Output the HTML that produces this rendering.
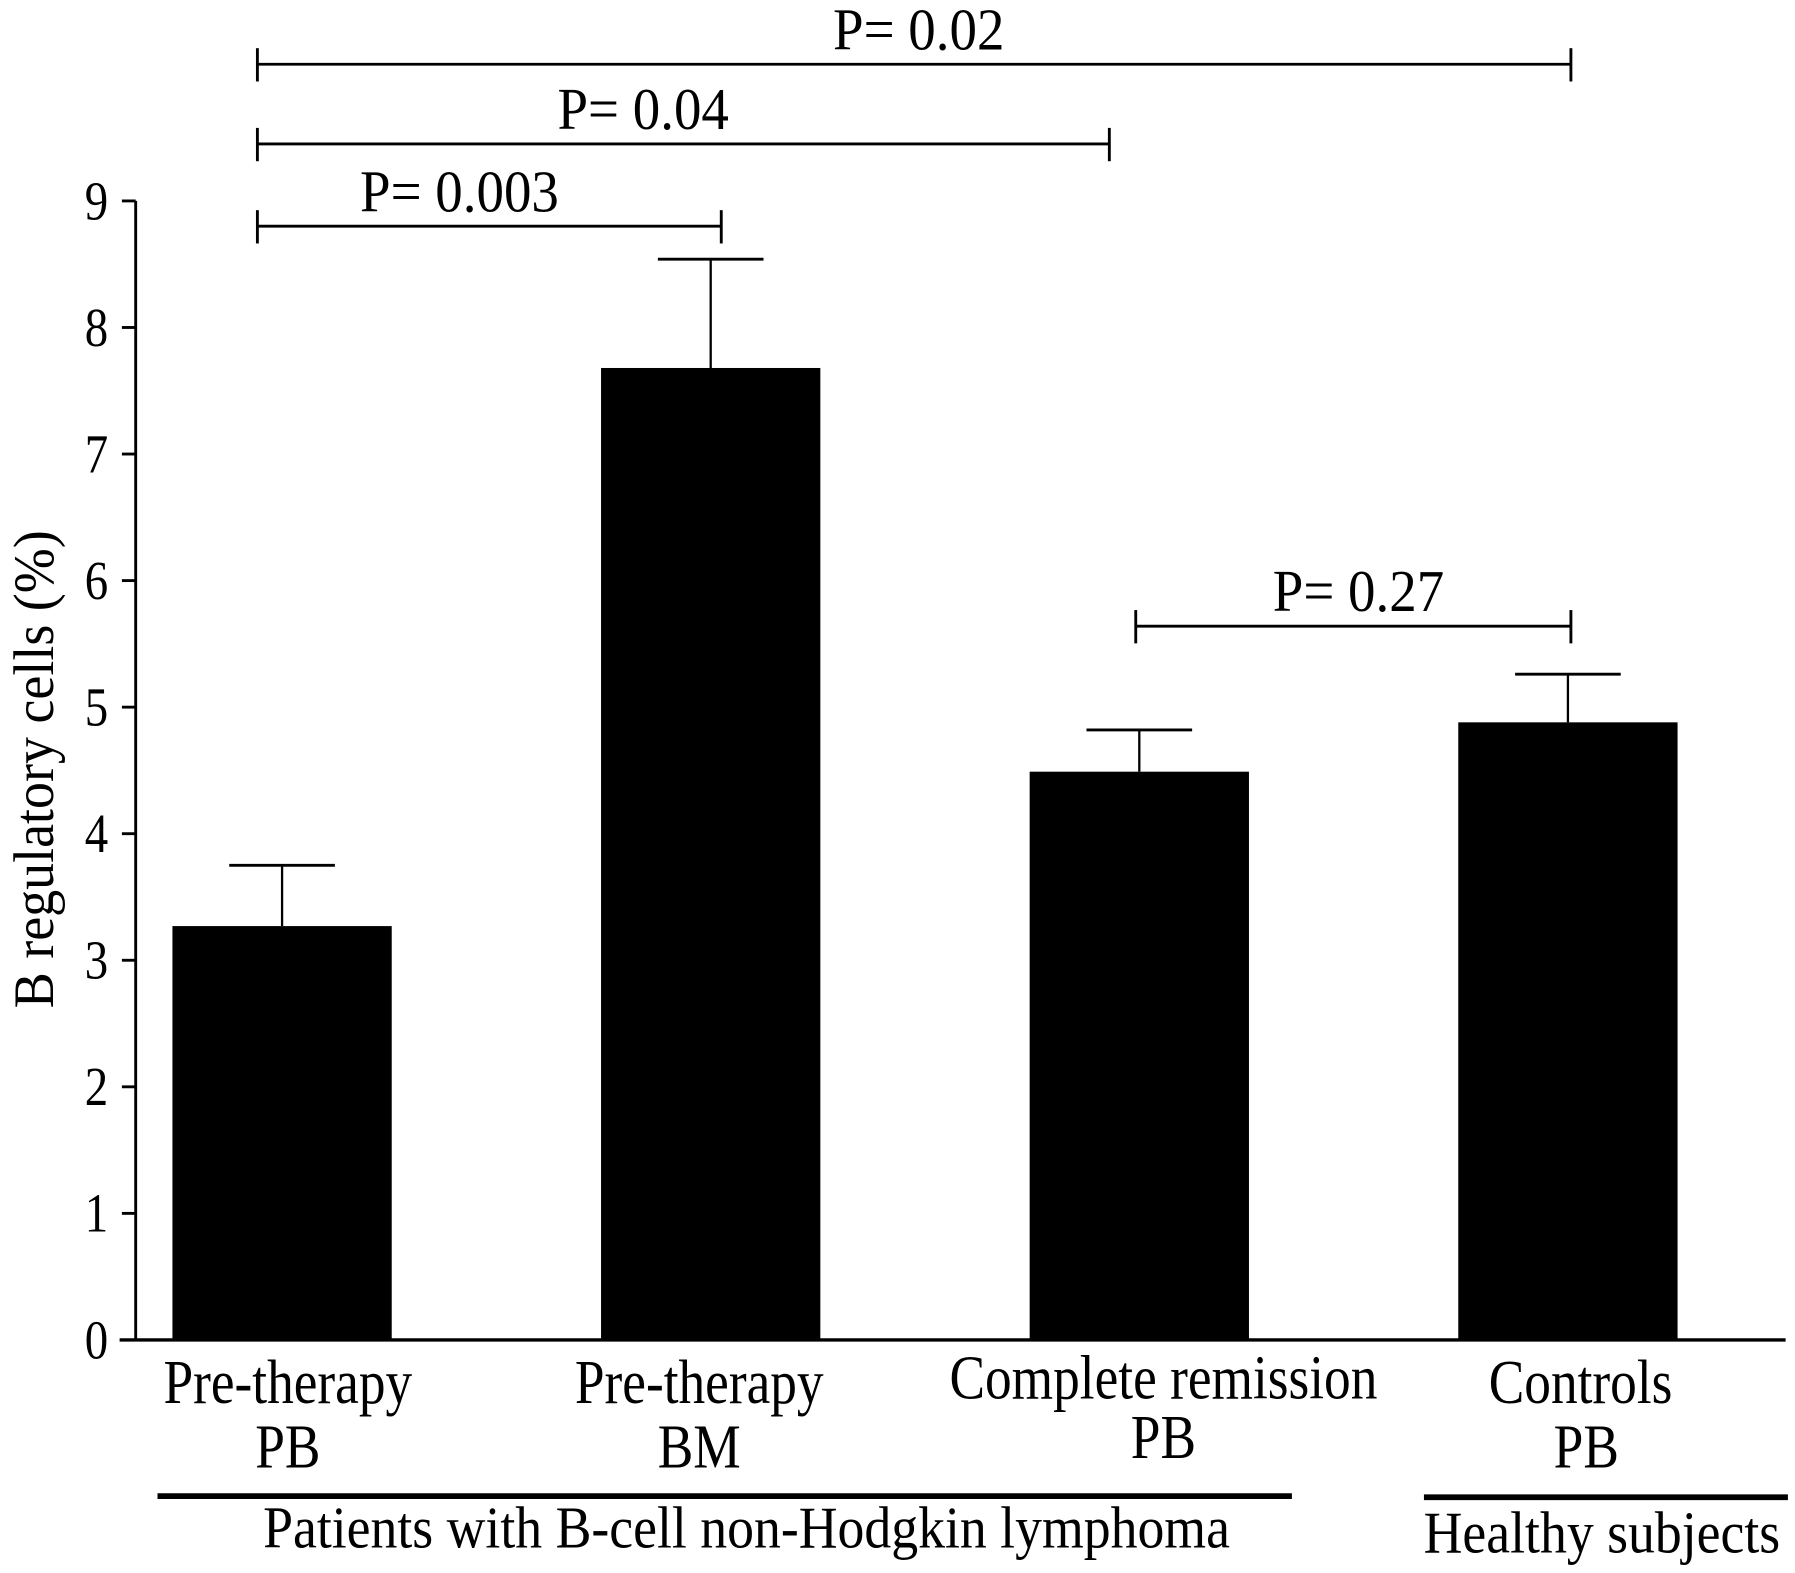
<!DOCTYPE html>
<html><head><meta charset="utf-8"><style>
html,body{margin:0;padding:0;background:#fff;}
svg{display:block;font-family:"Liberation Serif",serif;}
</style></head><body>
<svg id="chart" width="1795" height="1573" viewBox="0 0 1563 1370" xmlns="http://www.w3.org/2000/svg">
<rect width="1563" height="1370" fill="#fff"/>
<g id="axes"></g><g id="bars"></g><g id="sig"></g>
<text transform="translate(46,670) rotate(-90) scale(0.94,1)" text-anchor="middle" font-size="50">B regulatory cells (%)</text>
<line x1="137" x2="1125" y1="1303" y2="1303" stroke="#000" stroke-width="5"/>
<line x1="1240" x2="1557" y1="1304" y2="1304" stroke="#000" stroke-width="5"/>
<text transform="translate(650,1348) scale(0.9,1)" text-anchor="middle" font-size="52">Patients with B-cell non-Hodgkin lymphoma</text>
<text transform="translate(1395,1352) scale(0.9,1)" text-anchor="middle" font-size="52">Healthy subjects</text>
</svg>
<script>
const categories1 = ["Pre-therapy","Pre-therapy","Complete remission","Controls"];
const categories2 = ["PB","BM","PB","PB"];
const means = [3.27, 7.68, 4.49, 4.88];
const errors = [0.48, 0.86, 0.33, 0.38];
const yTicks = [0,1,2,3,4,5,6,7,8,9];
const sigFrom = [0,0,0,2];
const sigTo = [1,2,3,3];
const sigLabels = ["P= 0.003","P= 0.04","P= 0.02","P= 0.27"];
const sigLevel = [8.8, 9.45, 10.08, 5.64];

const NS="http://www.w3.org/2000/svg";
const y0=1167, yTop=175, yMax=9;
const y = v => y0 - (v/yMax)*(y0-yTop);
const barW = 191, slot0 = 150, slotStep = 373.3;
const xLeft = i => slot0 + i*slotStep;
const xc = i => xLeft(i) + barW/2;
function mk(tag, attrs, parent){const e=document.createElementNS(NS,tag);for(const k in attrs)e.setAttribute(k,attrs[k]);parent.appendChild(e);return e;}
function T(x,yy,size,sx,anchor,str,parent){const e=mk('text',{transform:`translate(${x},${yy}) scale(${sx},1)`,'text-anchor':anchor,'font-size':size},parent);e.textContent=str;return e;}
const axes=document.getElementById('axes'), bars=document.getElementById('bars'), sig=document.getElementById('sig');

let l=mk('line',{x1:118,x2:118,y1:yTop,y2:y0,stroke:'#000','stroke-width':2.5},axes);


l=mk('line',{x1:104,x2:1555,y1:y0,y2:y0,stroke:'#000','stroke-width':3},axes);


yTicks.forEach(t=>{
  const tk=mk('line',{x1:106,x2:118,y1:y(t),y2:y(t),stroke:'#000','stroke-width':2.5},axes);
  
  
  const tx=T(94,y(t)+16,48,0.85,'end',String(t),axes);
  
  
});
const labOff1=[5,-10,21,11], labOff2=[5,-10,21,16];
means.forEach((m,i)=>{
  const r=mk('rect',{x:xLeft(i),y:y(m),width:barW,height:y0-y(m),fill:'#000'},bars);
  
  
  const e=mk('line',{x1:xc(i),x2:xc(i),y1:y(m),y2:y(m+errors[i]),stroke:'#000','stroke-width':2},bars);
  
  
  const c=mk('line',{x1:xc(i)-46,x2:xc(i)+46,y1:y(m+errors[i]),y2:y(m+errors[i]),stroke:'#000','stroke-width':2.5},bars);
  
  
  const t1=T(xc(i)+labOff1[i],1222-(i==2?4:0),54,0.86,'middle',categories1[i],bars);
  
  
  const t2=T(xc(i)+labOff2[i],1278-(i==2?8:0),54,0.86,'middle',categories2[i],bars);
  
  
});
const sigX = i => i==0 ? 224 : (i==3 ? 1368 : (i==1? 628 : 966));
sigFrom.forEach((f,k)=>{
  const a = (k==3) ? 989 : sigX(f), b = sigX(sigTo[k]), yy=y(sigLevel[k]);
  const g=mk('g',{},sig);
  
  
  mk('line',{x1:a,x2:b,y1:yy,y2:yy,stroke:'#000','stroke-width':2.5},g);
  mk('line',{x1:a,x2:a,y1:yy-14,y2:yy+15,stroke:'#000','stroke-width':2.5},g);
  mk('line',{x1:b,x2:b,y1:yy-14,y2:yy+15,stroke:'#000','stroke-width':2.5},g);
  T(k==0?400:(k==1?560:(k==2?800:1183)),yy-13,52,0.92,'middle',sigLabels[k],g);
});
</script>
</body></html>
